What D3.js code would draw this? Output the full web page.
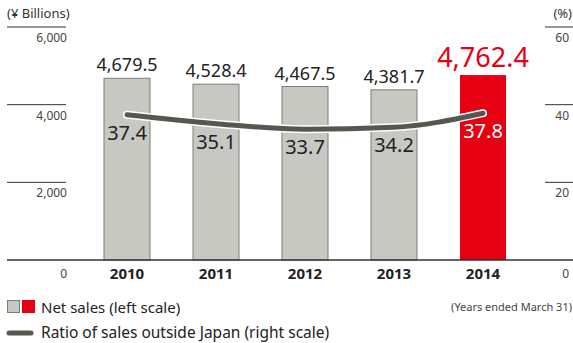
<!DOCTYPE html>
<html><head><meta charset="utf-8">
<script src="https://cdn.jsdelivr.net/npm/d3@7"></script>
<style>body{margin:0;background:#fff}svg{display:block}text{font-family:"Noto Sans",sans-serif}</style>
</head><body><svg id="c" width="573" height="343"></svg>
<script>
const years = ["2010","2011","2012","2013","2014"];
const netSales = [4679.5, 4528.4, 4467.5, 4381.7, 4762.4];
const ratio = [37.4, 35.1, 33.7, 34.2, 37.8];
const leftTicks = [0, 2000, 4000, 6000];
const rightTicks = [0, 20, 40, 60];

const svg = d3.select("#c");
const W = 573, y0 = 260, yTop = 27;
const x = d3.scaleBand().domain(years).range([82.5, 527.5]).paddingInner(0.483).paddingOuter(0.2415);
const yL = d3.scaleLinear().domain([0, 6000]).range([y0, yTop]);
const yR = d3.scaleLinear().domain([0, 60]).range([y0, yTop]);
const grey = "#c8c8c2", red = "#e60012", lineC = "#57564f";
const fmt = d3.format(",.1f");

leftTicks.filter(d => d > 0).forEach(d => {
  svg.append("line").attr("x1", 7).attr("x2", 66).attr("y1", yL(d)).attr("y2", yL(d)).attr("stroke", "#333").attr("stroke-width", 1);
});
leftTicks.forEach(d => {
  svg.append("text").attr("x", 67).attr("y", yL(d) + (d === 0 ? 18 : 15)).attr("text-anchor", "end")
    .attr("font-size", 12).attr("fill", "#444").text(d3.format(",")(d));
});
rightTicks.filter(d => d > 0).forEach(d => {
  svg.append("line").attr("x1", 545).attr("x2", W).attr("y1", yR(d)).attr("y2", yR(d)).attr("stroke", "#333").attr("stroke-width", 1);
});
rightTicks.forEach(d => {
  svg.append("text").attr("x", 569).attr("y", yR(d) + (d === 0 ? 18 : 15)).attr("text-anchor", "end")
    .attr("font-size", 12).attr("fill", "#444").text(d);
});
svg.append("text").attr("x", 7).attr("y", 18).attr("font-size", 13).attr("fill", "#333").text("(¥ Billions)");
svg.append("text").attr("x", 572).attr("y", 18).attr("text-anchor", "end").attr("font-size", 13).attr("fill", "#333").text("(%)");

svg.selectAll("rect.bar").data(years).enter().append("rect")
  .attr("x", d => x(d)).attr("width", x.bandwidth())
  .attr("y", (d, i) => yL(netSales[i])).attr("height", (d, i) => y0 - yL(netSales[i]))
  .attr("fill", (d, i) => i === 4 ? red : grey)
  .attr("stroke", (d, i) => i === 4 ? "none" : "#7d7d76").attr("stroke-width", 1);

svg.append("line").attr("x1", 7).attr("x2", W).attr("y1", y0).attr("y2", y0).attr("stroke", "#333").attr("stroke-width", 1.5);

svg.selectAll("text.val").data(years).enter().append("text")
  .attr("x", d => x(d) + x.bandwidth() / 2)
  .attr("y", (d, i) => yL(netSales[i]) - (i === 4 ? 8 : 7))
  .attr("text-anchor", "middle")
  .attr("font-size", (d, i) => i === 4 ? 27 : 18)
  .attr("fill", (d, i) => i === 4 ? red : "#222")
  .text((d, i) => fmt(netSales[i]));

const line = d3.line().x((d, i) => x(years[i]) + x.bandwidth() / 2).y(d => yR(d)).curve(d3.curveMonotoneX);
svg.append("path").attr("d", line(ratio)).attr("fill", "none").attr("stroke", "#fff").attr("stroke-width", 8).attr("stroke-linecap", "round");
svg.append("path").attr("d", line(ratio)).attr("fill", "none").attr("stroke", lineC).attr("stroke-width", 5).attr("stroke-linecap", "round");

svg.selectAll("text.ratio").data(years).enter().append("text")
  .attr("x", d => x(d) + x.bandwidth() / 2)
  .attr("y", (d, i) => yR(ratio[i]) + 25)
  .attr("text-anchor", "middle").attr("font-size", 20)
  .attr("fill", (d, i) => i === 4 ? "#fff" : "#222")
  .text((d, i) => ratio[i].toFixed(1));

svg.selectAll("text.yr").data(years).enter().append("text")
  .attr("x", d => x(d) + x.bandwidth() / 2).attr("y", 279)
  .attr("text-anchor", "middle").attr("font-size", 15).attr("font-weight", "bold").attr("fill", "#222")
  .text(d => d);

svg.append("text").attr("x", 572).attr("y", 311).attr("text-anchor", "end").attr("font-size", 11).attr("fill", "#444").text("(Years ended March 31)");

svg.append("rect").attr("x", 7.5).attr("y", 300.5).attr("width", 12).attr("height", 12).attr("fill", grey).attr("stroke", "#7d7d76");
svg.append("rect").attr("x", 22).attr("y", 300).attr("width", 13).attr("height", 13).attr("fill", red);
svg.append("text").attr("x", 41).attr("y", 313).attr("font-size", 15).attr("fill", "#222").text("Net sales (left scale)");
svg.append("line").attr("x1", 9).attr("x2", 31).attr("y1", 333).attr("y2", 333).attr("stroke", lineC).attr("stroke-width", 5).attr("stroke-linecap", "round");
svg.append("text").attr("x", 41).attr("y", 338).attr("font-size", 15.5).attr("fill", "#222").text("Ratio of sales outside Japan (right scale)");
</script></body></html>
